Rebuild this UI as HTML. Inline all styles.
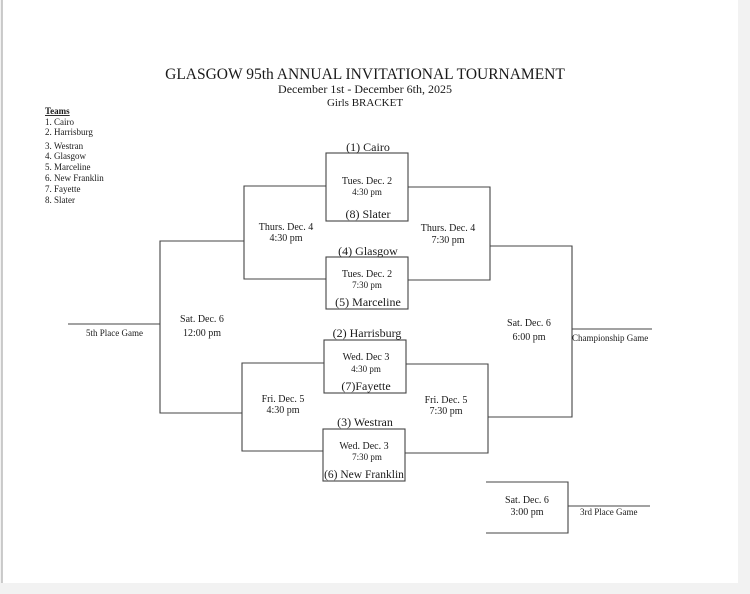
<!DOCTYPE html>
<html><head><meta charset="utf-8"><style>
body{margin:0;width:750px;height:594px;background:#f2f2f2;overflow:hidden}
svg{display:block}
text{font-family:"Liberation Serif",serif;fill:#1a1a1a}
</style></head><body>
<svg width="750" height="594" viewBox="0 0 750 594">
<rect x="0" y="0" width="750" height="594" fill="#f2f2f2"/>
<rect x="2" y="0" width="736" height="583" fill="#fff"/>
<line x1="2" y1="0" x2="2" y2="583" stroke="#bbb" stroke-width="1.5"/>
<g fill="none" stroke="#444" stroke-width="1.1">
<rect x="326" y="153" width="82" height="68"/>
<rect x="326" y="257" width="82" height="52"/>
<rect x="324" y="340" width="82" height="53"/>
<rect x="323" y="429" width="82" height="52"/>
<polyline points="326,186 244,186 244,279 326,279"/>
<polyline points="408,187 490,187 490,280 408,280"/>
<polyline points="324,363 242,363 242,451 323,451"/>
<polyline points="406,364 488,364 488,453 405,453"/>
<polyline points="244,241 160,241 160,413 242,413"/>
<polyline points="490,246 572,246 572,417 488,417"/>
<line x1="68" y1="324" x2="160" y2="324"/>
<line x1="572" y1="329" x2="652" y2="329"/>
<polyline points="486,482 568,482 568,533 486,533"/>
<line x1="568" y1="506" x2="650" y2="506"/>
</g>
<text x="365" y="79" font-size="15.5" text-anchor="middle">GLASGOW 95th ANNUAL INVITATIONAL TOURNAMENT</text>
<text x="365" y="93" font-size="12" text-anchor="middle">December 1st - December 6th, 2025</text>
<text x="365" y="106" font-size="11" text-anchor="middle">Girls BRACKET</text>
<g font-size="9">
<text x="45" y="114" text-decoration="underline" font-weight="bold">Teams</text>
<text x="45" y="125">1. Cairo</text>
<text x="45" y="135">2. Harrisburg</text>
<text x="45" y="149">3. Westran</text>
<text x="45" y="159">4. Glasgow</text>
<text x="45" y="170">5. Marceline</text>
<text x="45" y="181">6. New Franklin</text>
<text x="45" y="192">7. Fayette</text>
<text x="45" y="203">8. Slater</text>
</g>
<g font-size="12" text-anchor="middle">
<text x="368" y="151">(1) Cairo</text>
<text x="368" y="218">(8) Slater</text>
<text x="368" y="255">(4) Glasgow</text>
<text x="368" y="306">(5) Marceline</text>
<text x="367" y="337">(2) Harrisburg</text>
<text x="366" y="390">(7)Fayette</text>
<text x="365" y="426">(3) Westran</text>
<text x="364" y="478" font-size="11.5">(6) New Franklin</text>
</g>
<g font-size="10" text-anchor="middle">
<text x="367" y="184">Tues. Dec. 2</text>
<text x="367" y="195" font-size="9">4:30 pm</text>
<text x="367" y="277">Tues. Dec. 2</text>
<text x="367" y="288" font-size="9">7:30 pm</text>
<text x="366" y="360">Wed. Dec 3</text>
<text x="366" y="372" font-size="9">4:30 pm</text>
<text x="364" y="449">Wed. Dec. 3</text>
<text x="367" y="460" font-size="9">7:30 pm</text>
<text x="286" y="230">Thurs. Dec. 4</text>
<text x="286" y="241">4:30 pm</text>
<text x="448" y="231">Thurs. Dec. 4</text>
<text x="448" y="243">7:30 pm</text>
<text x="283" y="402">Fri. Dec. 5</text>
<text x="283" y="413">4:30 pm</text>
<text x="446" y="403">Fri. Dec. 5</text>
<text x="446" y="414">7:30 pm</text>
<text x="202" y="322">Sat. Dec. 6</text>
<text x="202" y="336">12:00 pm</text>
<text x="529" y="326">Sat. Dec. 6</text>
<text x="529" y="340">6:00 pm</text>
<text x="527" y="503">Sat. Dec. 6</text>
<text x="527" y="515">3:00 pm</text>
</g>
<g font-size="9">
<text x="86" y="336">5th Place Game</text>
<text x="572" y="341">Championship Game</text>
<text x="580" y="515">3rd Place Game</text>
</g>
</svg>
</body></html>
